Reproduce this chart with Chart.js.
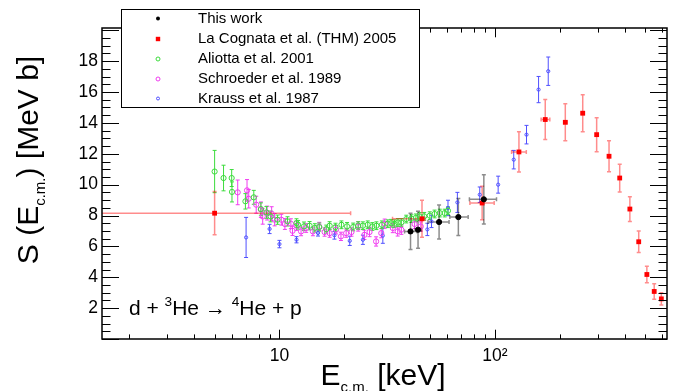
<!DOCTYPE html>
<html><head><meta charset="utf-8">
<script src="https://cdn.jsdelivr.net/npm/chart.js@4/dist/chart.umd.min.js"></script>
<style>html,body{margin:0;padding:0;background:#fff}</style>
</head><body>
<canvas id="c" width="677" height="391"></canvas>
<script>
// ---------------- data ----------------
const thisWorkE    = [40.6, 44.0, 55.1, 67.7, 88.9];
const thisWorkS    = [6.97, 7.08, 7.58, 7.90, 9.05];
const thisWorkSErr = [1.17, 1.2, 1.1, 1.2, 1.6];
const thisWorkELo  = [38.1, 42.6, 48.9, 61.8, 76.2];
const thisWorkEHi  = [43.6, 45.6, 61.3, 75.2, 101.8];

const cognataE    = [5.0, 45.9, 87.3, 129.4, 171.4, 212.4, 255.9, 297, 339, 380, 423.6, 465.6, 508, 549.5, 593];
const cognataS    = [8.15, 7.79, 8.81, 12.12, 14.22, 14.04, 14.63, 13.24, 11.84, 10.43, 8.42, 6.30, 4.18, 3.08, 2.60];
const cognataSErr = [1.4, 1.2, 1.08, 1.3, 1.3, 1.2, 1.2, 1.1, 1.0, 0.9, 0.8, 0.7, 0.54, 0.5, 0.4];
const cognataELo  = [1.0, 33.5, 76.6, 119.6, 164, 209, 252, 294, 336, 377, 421, 463, 505, 547, 590];
const cognataEHi  = [21.4, 47.5, 99.3, 140, 180, 216, 260, 300, 342, 383, 426, 468, 511, 552, 596];

const aliottaE = [5.0, 5.5, 6.0, 6.02, 6.95, 7.6, 8.2, 8.7, 9.1, 9.8, 10.9, 12.0, 12.2, 13.0, 13.8, 14.6, 15.3, 16.5, 17.1, 18.2, 19.4, 20.6, 22.0, 23.2, 24.4, 25.7, 27.0, 28.2, 29.9, 31.8, 33.0, 34.2, 35.5, 36.8, 38.8, 41.0, 43.0, 44.8, 47.0, 49.9, 52.5, 55.5, 58.5, 60.6];
const aliottaS = [10.85, 10.43, 10.43, 9.53, 8.92, 9.18, 8.42, 8.2, 7.94, 7.73, 7.62, 7.51, 7.40, 7.3, 7.34, 7.2, 7.25, 7.12, 7.34, 7.25, 7.40, 7.3, 7.26, 7.35, 7.34, 7.40, 7.29, 7.34, 7.40, 7.47, 7.5, 7.47, 7.55, 7.55, 7.77, 7.8, 7.85, 7.94, 7.95, 7.99, 8.1, 8.16, 8.16, 8.31];
const aliottaSErr = [1.37, 0.83, 0.55, 0.65, 0.5, 0.45, 0.4, 0.38, 0.35, 0.3, 0.3, 0.28, 0.28, 0.28, 0.27, 0.27, 0.26, 0.26, 0.26, 0.25, 0.25, 0.25, 0.25, 0.25, 0.25, 0.25, 0.25, 0.25, 0.25, 0.25, 0.25, 0.25, 0.25, 0.25, 0.25, 0.25, 0.25, 0.25, 0.25, 0.25, 0.25, 0.25, 0.25, 0.25];

const schroederE = [6.4, 7.07, 7.2, 7.8, 8.2, 8.36, 8.77, 9.2, 9.5, 10.2, 10.6, 11.3, 11.5, 12.0, 12.6, 13.3, 14.3, 15.3, 16.2, 17.1, 18.3, 19.3, 20.4, 21.6, 23.2, 24.8, 26.2, 28.1, 29.7, 30.8, 33.6, 35.4, 36.8, 42.4, 45.3];
const schroederS = [9.5, 9.63, 9.09, 8.7, 8.38, 7.94, 8.16, 8.12, 7.73, 7.73, 7.45, 7.47, 7.01, 7.34, 6.97, 7.19, 6.97, 7.29, 6.93, 6.86, 7.08, 6.65, 6.86, 6.93, 7.29, 6.75, 6.93, 6.32, 6.86, 7.47, 7.19, 6.97, 7.08, 7.45, 7.29];
const schroederSErr = [0.8, 0.7, 0.6, 0.55, 0.5, 0.5, 0.45, 0.45, 0.4, 0.35, 0.35, 0.32, 0.3, 0.3, 0.28, 0.28, 0.28, 0.27, 0.27, 0.27, 0.27, 0.27, 0.27, 0.27, 0.3, 0.3, 0.3, 0.3, 0.3, 0.3, 0.3, 0.3, 0.3, 0.3, 0.3];

const kraussE = [7.0, 9.0, 10.0, 12.0, 15.1, 18.0, 21.2, 24.4, 30.2, 48.6, 50.8, 60.6, 67.0, 85.1, 103.6, 122.4, 140.3, 159.6, 177];
const kraussS = [6.58, 7.13, 6.15, 6.43, 6.87, 6.72, 6.36, 6.43, 6.7, 7.1, 7.62, 8.49, 8.85, 9.35, 10.0, 11.62, 13.24, 16.16, 17.35];
const kraussSErr = [1.3, 0.3, 0.24, 0.2, 0.2, 0.25, 0.3, 0.3, 0.5, 0.4, 0.4, 0.5, 0.65, 0.5, 0.55, 0.6, 0.6, 0.85, 0.92];

const seriesNames = ['This work', 'La Cognata et al. (THM) 2005', 'Aliotta et al. 2001', 'Schroeder et al. 1989', 'Krauss et al. 1987'];
const xTickValues = [10, 100];
const xTickLabels = ['10', '10\u00B2'];
const yTickValues = [2, 4, 6, 8, 10, 12, 14, 16, 18];

// ---------------- helpers ----------------
const FONT = '"Liberation Sans", Arial, Helvetica, sans-serif';
function mk(E, S, sErr, eLo, eHi) {
  return E.map((e, i) => ({
    x: e, y: S[i], yl: S[i] - sErr[i], yh: S[i] + sErr[i],
    xl: eLo ? eLo[i] : null, xh: eHi ? eHi[i] : null
  }));
}
const colBlack = '#000000', colRed = '#ff0000', colGreen = 'rgb(60,220,60)', colMag = 'rgb(240,60,240)', colBlue = 'rgb(80,80,255)';

const datasets = [
  { label: seriesNames[0], data: mk(thisWorkE, thisWorkS, thisWorkSErr, thisWorkELo, thisWorkEHi),
    pointStyle: 'circle', pointRadius: 2.6, backgroundColor: colBlack, borderColor: colBlack, borderWidth: 1,
    errColor: 'rgba(0,0,0,0.45)', errWidth: 1.5 },
  { label: seriesNames[1], data: mk(cognataE, cognataS, cognataSErr, cognataELo, cognataEHi),
    pointStyle: 'rect', pointRadius: 3.4, backgroundColor: colRed, borderColor: colRed, borderWidth: 0,
    errColor: 'rgba(255,0,0,0.45)', errWidth: 1.5 },
  { label: seriesNames[2], data: mk(aliottaE, aliottaS, aliottaSErr),
    pointStyle: 'circle', pointRadius: 2.6, backgroundColor: 'rgba(0,0,0,0)', borderColor: colGreen, borderWidth: 1,
    errColor: colGreen, errWidth: 1 },
  { label: seriesNames[3], data: mk(schroederE, schroederS, schroederSErr),
    pointStyle: 'circle', pointRadius: 2.6, backgroundColor: 'rgba(0,0,0,0)', borderColor: colMag, borderWidth: 1,
    errColor: colMag, errWidth: 1 },
  { label: seriesNames[4], data: mk(kraussE, kraussS, kraussSErr),
    pointStyle: 'circle', pointRadius: 1.6, backgroundColor: 'rgba(0,0,0,0)', borderColor: colBlue, borderWidth: 1,
    errColor: colBlue, errWidth: 1 }
];

function richWidth(ctx, segs, size) {
  let w = 0;
  segs.forEach(s => { ctx.font = (s.k ? size * s.r : size) + 'px ' + FONT; w += ctx.measureText(s.t).width; });
  return w;
}
function drawRich(ctx, segs, x, y, size) {
  let cx = x;
  segs.forEach(s => {
    const fs = s.k ? size * s.r : size;
    ctx.font = fs + 'px ' + FONT;
    const dy = s.k === 'sup' ? -size * 0.42 : (s.k === 'sub' ? size * 0.22 : 0);
    ctx.fillText(s.t, cx, y + dy);
    cx += ctx.measureText(s.t).width;
  });
}

// error bars through the chart's scales
const errorBars = {
  id: 'errorBars',
  beforeDatasetsDraw(chart) {
    const { ctx, chartArea: a, scales: { x, y } } = chart;
    ctx.save();
    ctx.beginPath(); ctx.rect(a.left, a.top, a.right - a.left, a.bottom - a.top); ctx.clip();
    for (let di = chart.data.datasets.length - 1; di >= 0; di--) {
      const ds = chart.data.datasets[di];
      ctx.strokeStyle = ds.errColor; ctx.lineWidth = ds.errWidth;
      ctx.beginPath();
      ds.data.forEach(p => {
        const px = x.getPixelForValue(p.x), py = y.getPixelForValue(p.y);
        const y1 = y.getPixelForValue(p.yl), y2 = y.getPixelForValue(p.yh);
        ctx.moveTo(px, y1); ctx.lineTo(px, y2);
        ctx.moveTo(px - 2, y1); ctx.lineTo(px + 2, y1);
        ctx.moveTo(px - 2, y2); ctx.lineTo(px + 2, y2);
        if (p.xl != null) {
          const x1 = x.getPixelForValue(p.xl), x2 = x.getPixelForValue(p.xh);
          ctx.moveTo(x1, py); ctx.lineTo(x2, py);
          ctx.moveTo(x1, py - 2); ctx.lineTo(x1, py + 2);
          ctx.moveTo(x2, py - 2); ctx.lineTo(x2, py + 2);
        }
      });
      ctx.stroke();
    }
    ctx.restore();
  }
};

// ROOT-like frame with inward ticks, titles, annotation, legend
const decor = {
  id: 'decor',
  afterDraw(chart) {
    const { ctx, chartArea: a, scales: { x, y } } = chart;
    ctx.save();
    ctx.strokeStyle = '#000'; ctx.lineWidth = 1;
    ctx.beginPath();
    for (let i = 0; i <= 40; i++) {
      const v = i * 0.5; if (v > y.max) break;
      const py = Math.round(y.getPixelForValue(v)) + 0.5;
      const len = (i % 4 === 0) ? 17 : 8.5;
      ctx.moveTo(a.left, py); ctx.lineTo(a.left + len, py);
      ctx.moveTo(a.right, py); ctx.lineTo(a.right - len, py);
    }
    for (let dec = 1; dec <= 100; dec *= 10) {
      for (let m = 1; m <= 9; m++) {
        const v = m * dec; if (v < x.min || v > x.max) continue;
        const px = Math.round(x.getPixelForValue(v)) + 0.5;
        const len = (m === 1) ? 9.3 : 4.6;
        ctx.moveTo(px, a.bottom); ctx.lineTo(px, a.bottom - len);
        ctx.moveTo(px, a.top); ctx.lineTo(px, a.top + len);
      }
    }
    ctx.stroke();
    ctx.lineWidth = 1.5;
    ctx.strokeRect(a.left, a.top, a.right - a.left, a.bottom - a.top);

    ctx.fillStyle = '#000';
    ctx.textBaseline = 'alphabetic'; ctx.textAlign = 'left';
    // x title
    const xt = [{ t: 'E' }, { t: 'c.m.', k: 'sub', r: 0.5 }, { t: ' [keV]' }];
    const xs = 30;
    const xw = richWidth(ctx, xt, xs);
    drawRich(ctx, xt, 383 - xw / 2, 385, xs);
    // y title
    const yt = [{ t: 'S (E' }, { t: 'c.m.', k: 'sub', r: 0.5 }, { t: ') [MeV b]' }];
    const yw = richWidth(ctx, yt, xs);
    ctx.save();
    ctx.translate(38, 160); ctx.rotate(-Math.PI / 2);
    drawRich(ctx, yt, -yw / 2, 0, xs);
    ctx.restore();
    // reaction annotation
    drawRich(ctx, [{ t: 'd + ' }, { t: '3', k: 'sup', r: 0.65 }, { t: 'He \u2192 ' }, { t: '4', k: 'sup', r: 0.65 }, { t: 'He + p' }], 129, 315, 21);

    // legend box
    ctx.fillStyle = '#fff';
    ctx.fillRect(121, 9, 299, 99);
    ctx.lineWidth = 1; ctx.strokeStyle = '#000';
    ctx.strokeRect(121.5, 9.5, 298, 98);
    const rows = [18.5, 39, 59, 79, 98.5];
    ctx.font = '15px ' + FONT; ctx.textBaseline = 'middle';
    chart.data.datasets.forEach((ds, i) => {
      const cy = rows[i], cx = 158;
      ctx.fillStyle = '#000';
      ctx.fillText(ds.label, 198, cy);
      ctx.beginPath();
      if (ds.pointStyle === 'rect') {
        ctx.fillStyle = ds.backgroundColor; ctx.fillRect(cx - 2.2, cy - 2.2, 4.4, 4.4);
      } else {
        ctx.arc(cx, cy, i === 4 ? 1.5 : 2, 0, Math.PI * 2);
        if (i === 0) { ctx.fillStyle = '#000'; ctx.fill(); }
        else { ctx.strokeStyle = ds.borderColor; ctx.stroke(); }
      }
    });
    ctx.restore();
  }
};

new Chart(document.getElementById('c'), {
  type: 'scatter',
  data: { datasets },
  options: {
    responsive: false, animation: false,
    layout: { padding: { top: 28, right: 10, left: 0, bottom: 0 } },
    plugins: { legend: { display: false }, tooltip: { enabled: false } },
    scales: {
      x: {
        type: 'logarithmic', min: 1.5, max: 630, position: 'bottom',
        grid: { display: false, drawTicks: false }, border: { display: false },
        ticks: { color: '#000', font: { family: FONT, size: 17.5 }, padding: 7, maxRotation: 0, autoSkip: false,
          callback: (v) => { const k = xTickValues.indexOf(v); return k >= 0 ? xTickLabels[k] : ''; } },
        afterBuildTicks: (s) => { s.ticks = xTickValues.map(v => ({ value: v })); },
        afterFit: (s) => { s.height = 52; }
      },
      y: {
        min: 0, max: 20.15,
        grid: { display: false, drawTicks: false }, border: { display: false },
        ticks: { color: '#000', font: { family: FONT, size: 17.5 }, padding: 4 },
        afterBuildTicks: (s) => { s.ticks = yTickValues.map(v => ({ value: v })); },
        afterFit: (s) => { s.width = 102; }
      }
    }
  },
  plugins: [errorBars, decor]
});
</script>
</body></html>
